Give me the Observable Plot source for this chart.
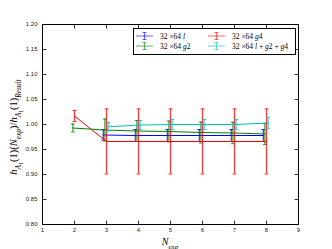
<!DOCTYPE html>
<html><head><meta charset="utf-8">
<script src="https://cdn.jsdelivr.net/npm/d3@7"></script>
<script src="https://cdn.jsdelivr.net/npm/@observablehq/plot@0.6"></script>
<style>body{margin:0;background:#fff}</style>
</head><body><div id="chart"></div>
<script>
// ---- data ----
const seriesNames = ["l", "g2", "g4", "l+g2+g4"];
const seriesColors = ["#0000ff", "#008000", "#ff0000", "#00bfbf"];
const seriesShift = [-0.1, -0.05, 0, 0.05];

const nL = [3, 4, 5, 6, 7, 8];
const yL = [0.979, 0.978, 0.978, 0.978, 0.978, 0.978];
const eL = [0.0105, 0.012, 0.012, 0.012, 0.012, 0.012];

const nG2 = [2, 3, 4, 5, 6, 7, 8];
const yG2 = [0.993, 0.989, 0.987, 0.986, 0.984, 0.983, 0.981];
const eG2 = [0.008, 0.022, 0.021, 0.021, 0.021, 0.0215, 0.021];

const nG4 = [2, 3, 4, 5, 6, 7, 8];
const yG4 = [1.017, 0.966, 0.966, 0.966, 0.966, 0.966, 0.966];
const eG4 = [0.011, 0.065, 0.065, 0.065, 0.065, 0.065, 0.065];

const nAll = [3, 4, 5, 6, 7, 8];
const yAll = [0.9955, 0.999, 1.0, 1.0, 1.0, 1.003];
const eAll = [0.0085, 0.009, 0.010, 0.010, 0.010, 0.0115];

const xTicks = [1, 2, 3, 4, 5, 6, 7, 8, 9];
const yTicks = [0.80, 0.85, 0.90, 0.95, 1.00, 1.05, 1.10, 1.15, 1.20];

// ---- build tables ----
const raw = [[nL, yL, eL], [nG2, yG2, eG2], [nG4, yG4, eG4], [nAll, yAll, eAll]];
const tables = raw.map(([n, y, e], i) => n.map((v, j) => ({
  series: seriesNames[i], x: v + seriesShift[i], y: y[j], lo: y[j] - e[j], hi: y[j] + e[j]
})));

// custom symbols
const hcap = {draw(ctx, size) { const r = Math.sqrt(size / Math.PI); ctx.moveTo(-r, 0); ctx.lineTo(r, 0); }};
const tickRight = {draw(ctx, size) { const r = Math.sqrt(size / Math.PI); ctx.moveTo(0, 0); ctx.lineTo(r, 0); }};
const tickLeft = {draw(ctx, size) { const r = Math.sqrt(size / Math.PI); ctx.moveTo(0, 0); ctx.lineTo(-r, 0); }};
const tickUp = {draw(ctx, size) { const r = Math.sqrt(size / Math.PI); ctx.moveTo(0, 0); ctx.lineTo(0, -r); }};
const tickDown = {draw(ctx, size) { const r = Math.sqrt(size / Math.PI); ctx.moveTo(0, 0); ctx.lineTo(0, r); }};

const marks = [
  Plot.axisX({ticks: xTicks, tickSize: 0, tickPadding: 3, tickFormat: d => String(d), label: null, fill: "#222"}),
  Plot.axisY({ticks: yTicks, tickSize: 0, tickPadding: 5, tickFormat: d3.format(".2f"), label: null, fill: "#222"}),
];
tables.forEach((t, i) => {
  const c = seriesColors[i];
  marks.push(Plot.line(t, {x: "x", y: "y", stroke: c, strokeWidth: 1}));
  marks.push(Plot.ruleX(t, {x: "x", y1: "lo", y2: "hi", stroke: c, strokeWidth: 1.2, strokeOpacity: 0.8}));
  marks.push(Plot.dot(t, {x: "x", y: "lo", symbol: hcap, r: 2, fill: "none", stroke: c, strokeWidth: 1, strokeOpacity: 0.8}));
  marks.push(Plot.dot(t, {x: "x", y: "hi", symbol: hcap, r: 2, fill: "none", stroke: c, strokeWidth: 1, strokeOpacity: 0.8}));
});
// inward ticks
marks.push(Plot.dot(yTicks, {x: xTicks[0], y: d => d, symbol: tickRight, r: 4, fill: "none", stroke: "black", strokeWidth: 0.8}));
marks.push(Plot.dot(yTicks, {x: xTicks[xTicks.length - 1], y: d => d, symbol: tickLeft, r: 4, fill: "none", stroke: "black", strokeWidth: 0.8}));
marks.push(Plot.dot(xTicks, {x: d => d, y: yTicks[0], symbol: tickUp, r: 4, fill: "none", stroke: "black", strokeWidth: 0.8}));
marks.push(Plot.dot(xTicks, {x: d => d, y: yTicks[yTicks.length - 1], symbol: tickDown, r: 4, fill: "none", stroke: "black", strokeWidth: 0.8}));
marks.push(Plot.frame({stroke: "black", strokeWidth: 1}));

const svg = Plot.plot({
  width: 332, height: 249,
  marginLeft: 42, marginRight: 34, marginTop: 24, marginBottom: 25,
  x: {domain: [1, 9]},
  y: {domain: [0.8, 1.2]},
  style: {fontSize: "6px", fontFamily: "'Liberation Sans', Arial, sans-serif", background: "#fff", overflow: "visible"},
  marks
});
document.getElementById("chart").appendChild(svg);

// ---- rich text helpers (math-like labels) ----
const root = d3.select(svg);
function richText(g, pieces, base, anchor) {
  const txt = g.append("text").attr("font-family", "'Liberation Serif', 'DejaVu Serif', serif")
    .attr("fill", "black").attr("text-anchor", anchor);
  let cur = 0;
  const lvl = [0, 0.35, 0.6];
  pieces.forEach(([t, level, italic]) => {
    const size = level === 0 ? base : level === 1 ? base * 0.7 : base * 0.55;
    const target = lvl[level] * base;
    txt.append("tspan").text(t).attr("font-size", size)
      .attr("font-style", italic ? "italic" : "normal")
      .attr("dy", target - cur);
    cur = target;
  });
  return txt;
}

// x label
richText(root.append("g").attr("transform", "translate(170,245)"),
  [["N", 0, true], ["exp", 1, true]], 10, "middle");

// y label
richText(root.append("g").attr("transform", "translate(17,127) rotate(-90)"),
  [["h", 0, true], ["A", 1, true], ["1", 2, false], ["(1)(", 0, false], ["N", 0, true], ["exp", 1, true],
   [")/", 0, false], ["h", 0, true], ["A", 1, true], ["1", 2, false], ["(1)", 0, false], ["Result", 1, true]], 10.5, "middle");

// legend
const lg = root.append("g");
lg.append("rect").attr("x", 133.5).attr("y", 28.5).attr("width", 162).attr("height", 26)
  .attr("fill", "white").attr("stroke", "black").attr("stroke-width", 1);
const legendPos = [[136, 36], [136, 46], [208, 36], [208, 46]];
const legendLabels = [
  [["32 ×64 ", 0, false], ["l", 0, true]],
  [["32 ×64 ", 0, false], ["g", 0, true], ["2", 0, false]],
  [["32 ×64 ", 0, false], ["g", 0, true], ["4", 0, false]],
  [["32 ×64 ", 0, false], ["l", 0, true], [" + ", 0, false], ["g", 0, true], ["2 + ", 0, false], ["g", 0, true], ["4", 0, false]],
];
seriesNames.forEach((s, i) => {
  const [x0, y0] = legendPos[i];
  const c = seriesColors[i];
  const g = lg.append("g").attr("stroke", c).attr("stroke-opacity", 0.6).attr("fill", "none");
  g.append("line").attr("x1", x0).attr("x2", x0 + 17).attr("y1", y0).attr("y2", y0).attr("stroke-width", 1);
  g.append("line").attr("x1", x0 + 8.5).attr("x2", x0 + 8.5).attr("y1", y0 - 3.5).attr("y2", y0 + 3.5).attr("stroke-width", 1.2);
  g.append("line").attr("x1", x0 + 6.5).attr("x2", x0 + 10.5).attr("y1", y0 - 3.5).attr("y2", y0 - 3.5);
  g.append("line").attr("x1", x0 + 6.5).attr("x2", x0 + 10.5).attr("y1", y0 + 3.5).attr("y2", y0 + 3.5);
  richText(lg.append("g").attr("transform", `translate(${x0 + 24},${y0 + 2.5})`), legendLabels[i], 7.5, "start");
});
</script></body></html>
